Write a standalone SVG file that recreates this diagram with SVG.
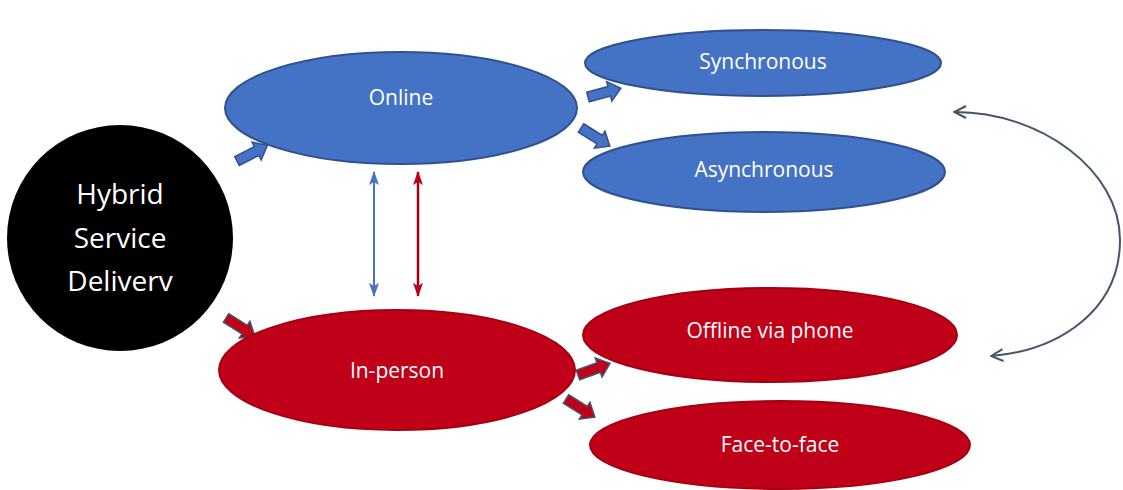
<svg xmlns="http://www.w3.org/2000/svg" width="1123" height="490" viewBox="0 0 1123 490">
<style>
.blue{fill:#4472C4;stroke:#2F528F;stroke-width:2}
.red{fill:#C00018;stroke:#A50010;stroke-width:2}
.t{font-family:"Open Sans","Liberation Sans",sans-serif;fill:#fff;text-anchor:middle;font-size:21px}
.h{font-family:"Open Sans","Liberation Sans",sans-serif;fill:#fff;text-anchor:middle;font-size:28px}
.ba{fill:#4472C4;stroke:#2F528F;stroke-width:1.5}
.ra{fill:#C00018;stroke:#44546A;stroke-width:1.5}
</style>
<defs>
<marker id="mb" viewBox="0 0 14 10" refX="13" refY="5" markerWidth="14" markerHeight="10" orient="auto-start-reverse" markerUnits="userSpaceOnUse"><path d="M0,0L14,5L0,10L3,5z" fill="#4472C4"/></marker>
<marker id="mr" viewBox="0 0 14 10" refX="13" refY="5" markerWidth="14" markerHeight="10" orient="auto-start-reverse" markerUnits="userSpaceOnUse"><path d="M0,0L14,5L0,10L3,5z" fill="#C00018"/></marker>
<marker id="mg" viewBox="0 0 14 14" refX="12" refY="7" markerWidth="14" markerHeight="14" orient="auto-start-reverse" markerUnits="userSpaceOnUse"><path d="M1,1L13,7L1,13" fill="none" stroke="#44546A" stroke-width="2"/></marker>
<path id="blk" d="M0,-5L22,-5L22,-10L34,0L22,10L22,5L0,5z"/>
</defs>
<g id="connectors">
<use href="#blk" class="ba" transform="translate(237,161) rotate(-27)"/>
<use href="#blk" class="ba" transform="translate(588,97) rotate(-15)"/>
<use href="#blk" class="ba" transform="translate(581,128) rotate(32)"/>
<use href="#blk" class="ra" transform="translate(226,318) rotate(32)"/>
<use href="#blk" class="ra" transform="translate(578,375) rotate(-20)"/>
<use href="#blk" class="ra" transform="translate(566,399) rotate(32)"/>
<line x1="374" y1="172" x2="374" y2="296" stroke="#4472C4" stroke-width="2" marker-start="url(#mb)" marker-end="url(#mb)"/>
<line x1="418" y1="172" x2="418" y2="296" stroke="#A00010" stroke-width="2.5" marker-start="url(#mr)" marker-end="url(#mr)"/>
<path d="M955,112 C1040,112 1120,170 1120,240 C1120,310 1060,350 992,356" fill="none" stroke="#44546A" stroke-width="2" marker-start="url(#mg)" marker-end="url(#mg)"/>
</g>
<g id="hybrid"><ellipse cx="120" cy="238" rx="113" ry="113" fill="#000"/>
<text class="h" x="120" y="204">Hybrid</text><text class="h" x="120" y="248">Service</text><text class="h" x="120" y="291">Deliverv</text></g>
<g id="online"><ellipse class="blue" cx="401" cy="108" rx="176" ry="56"/><text class="t" x="401" y="105">Online</text></g>
<g id="synchronous"><ellipse class="blue" cx="763" cy="63" rx="178" ry="33"/><text class="t" x="763" y="69">Synchronous</text></g>
<g id="asynchronous"><ellipse class="blue" cx="764" cy="172" rx="181" ry="40"/><text class="t" x="764" y="177">Asynchronous</text></g>
<g id="inperson"><ellipse class="red" cx="397" cy="370" rx="178" ry="60"/><text class="t" x="397" y="378">In-person</text></g>
<g id="offline"><ellipse class="red" cx="770" cy="335" rx="187" ry="47"/><text class="t" x="770" y="338">Offline via phone</text></g>
<g id="facetoface"><ellipse class="red" cx="780" cy="445" rx="190" ry="44"/><text class="t" x="780" y="452">Face-to-face</text></g>
</svg>
